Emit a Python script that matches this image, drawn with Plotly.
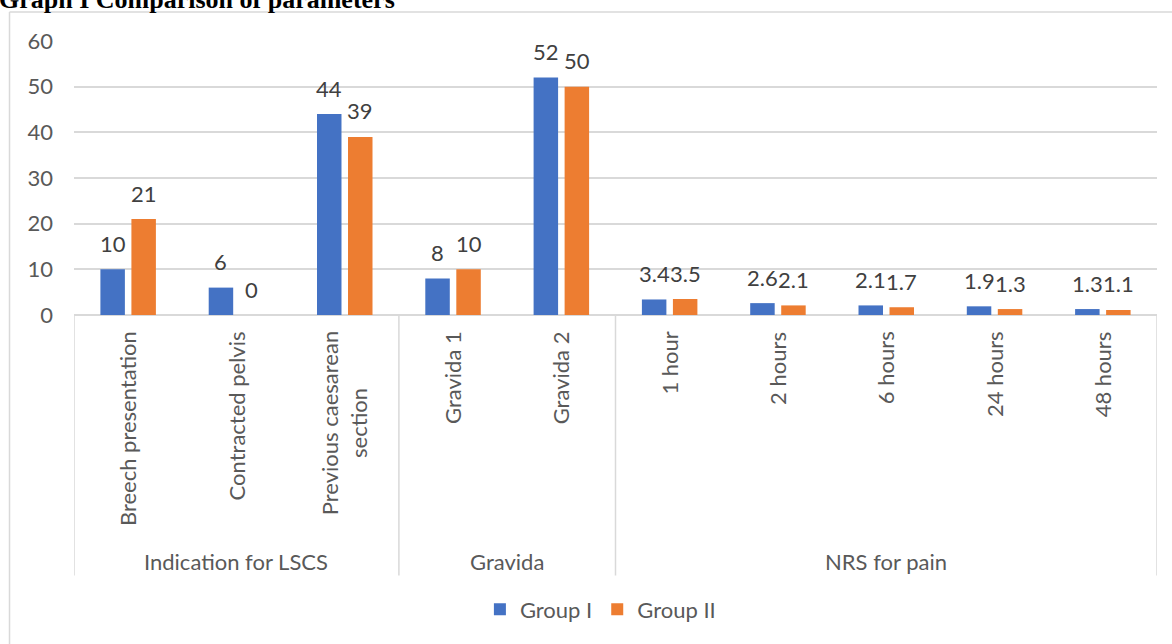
import plotly.graph_objects as go

categories = ["Breech presentation", "Contracted pelvis", "Previous caesarean<br>section",
              "Gravida 1", "Gravida 2",
              "1 hour", "2 hours", "6 hours", "24 hours", "48 hours"]
groups = ["Indication for LSCS", "Gravida", "NRS for pain"]
group_spans = [(0, 2), (3, 4), (5, 9)]
group1 = [10, 6, 44, 8, 52, 3.4, 2.6, 2.1, 1.9, 1.3]
group2 = [21, 0, 39, 10, 50, 3.5, 2.1, 1.7, 1.3, 1.1]
y_ticks = [0, 10, 20, 30, 40, 50, 60]
series_names = ["Group I", "Group II"]
colors = ["#4472C4", "#ED7D31"]

W_PX, H_PX = 1172, 644
L, R, T, B = 73.5, 1156.7, 40.5, 315.5
PW, PH = R - L, B - T
BARGAP, BARGROUPGAP = 0.4275, 0.21

def px_x(px):
    return (px - L) / PW

def px_y(py):
    return 1 - (py - T) / PH

FONT = "Lato"
TXT = "#595959"
LBL = "#404040"
GRID = "#d9d9d9"

xs = list(range(len(categories)))
fig = go.Figure()
annotations = []
slot = (1 - BARGAP) / len(series_names)
for k, (name, vals, col) in enumerate(zip(series_names, [group1, group2], colors)):
    fig.add_trace(go.Bar(
        x=xs, y=vals, name=name, marker=dict(color=col, line=dict(width=0)),
    ))
    off = (k - (len(series_names) - 1) / 2) * slot
    for i, v in zip(xs, vals):
        annotations.append(dict(
            x=i + off, y=v, xref="x", yref="y", text=f"{v:g}", showarrow=False,
            xanchor="center", yanchor="middle", yshift=26,
            font=dict(family=FONT, size=22, color=LBL)))

for i, c in enumerate(categories):
    annotations.append(dict(
        x=i, y=px_y(330), xref="x", yref="paper", text=c, textangle=-90,
        showarrow=False, xanchor="center", yanchor="top", align="center",
        font=dict(family=FONT, size=22, color=TXT)))
for g, (a, b) in zip(groups, group_spans):
    annotations.append(dict(
        x=(a + b) / 2, y=px_y(563), xref="x", yref="paper", text=g,
        showarrow=False, xanchor="center", yanchor="middle",
        font=dict(family=FONT, size=22, color=TXT)))
annotations.append(dict(
    x=px_x(-4), y=px_y(15), xref="paper", yref="paper",
    text="<b>Graph I Comparison of parameters</b>", showarrow=False,
    xanchor="left", yanchor="bottom",
    font=dict(family="Liberation Serif", size=26, color="#000000")))

shapes = []
for a, b in group_spans:
    for xv in ([a - 0.5, b + 0.5] if a == 0 else [b + 0.5]):
        shapes.append(dict(type="line", xref="x", yref="paper", x0=xv, x1=xv,
                           y0=0, y1=px_y(577), line=dict(color=GRID, width=1.5)))
# outer chart frame
shapes.append(dict(type="line", xref="paper", yref="paper", x0=px_x(9), x1=px_x(9),
                   y0=px_y(11.5), y1=px_y(660), line=dict(color=GRID, width=1.5)))
shapes.append(dict(type="line", xref="paper", yref="paper", x0=px_x(9), x1=px_x(1180),
                   y0=px_y(11.5), y1=px_y(11.5), line=dict(color=GRID, width=1.5)))

fig.update_layout(
    width=W_PX, height=H_PX,
    margin=dict(l=L, r=W_PX - R, t=T, b=H_PX - B, pad=0),
    paper_bgcolor="white", plot_bgcolor="white",
    barmode="group", bargap=BARGAP, bargroupgap=BARGROUPGAP,
    font=dict(family=FONT, color=TXT),
    showlegend=True,
    legend=dict(orientation="h", x=px_x(600), xanchor="center", y=px_y(611), yanchor="middle",
                font=dict(family=FONT, size=22, color=TXT), itemwidth=30,
                traceorder="normal", bgcolor="rgba(0,0,0,0)"),
    annotations=annotations, shapes=shapes,
)
fig.update_xaxes(range=[-0.5, len(categories) - 0.5], showticklabels=False, showgrid=False,
                 zeroline=False, showline=False, ticks="", fixedrange=True)
fig.update_yaxes(range=[0, 60], tickvals=y_ticks, showgrid=True, gridcolor=GRID, gridwidth=1.5,
                 zeroline=True, zerolinecolor=GRID, zerolinewidth=1.5, showline=False,
                 ticks="", ticklabelstandoff=20,
                 tickfont=dict(family=FONT, size=22, color=TXT))

fig.write_html("out.html")
